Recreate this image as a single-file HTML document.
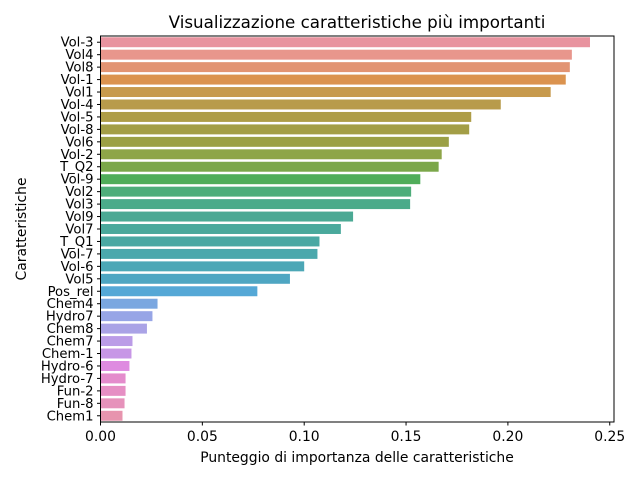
<!DOCTYPE html>
<html><head><meta charset="utf-8"><style>
body{margin:0;background:#fff;}
svg{font-family:"DejaVu Sans","Liberation Sans",sans-serif;}
</style></head><body>
<svg id="chart" width="640" height="480">
<text x="357" y="28" text-anchor="middle" font-size="16.7">Visualizzazione caratteristiche più importanti</text>
<g id="bars"></g><g id="yticks"></g><g id="xticks"></g>
<rect x="100.5" y="36" width="513.5" height="386" fill="none" stroke="#000" stroke-width="1"/>
<text x="357" y="462" text-anchor="middle" font-size="13.9">Punteggio di importanza delle caratteristiche</text>
<text transform="translate(26,229) rotate(-90)" text-anchor="middle" font-size="13.9">Caratteristiche</text>
</svg>
<script>
const categories=["Vol-3","Vol4","Vol8","Vol-1","Vol1","Vol-4","Vol-5","Vol-8","Vol6","Vol-2","T_Q2","Vol-9","Vol2","Vol3","Vol9","Vol7","T_Q1","Vol-7","Vol-6","Vol5","Pos_rel","Chem4","Hydro7","Chem8","Chem7","Chem-1","Hydro-6","Hydro-7","Fun-2","Fun-8","Chem1"];
const values=[0.2403,0.2314,0.2304,0.2284,0.221,0.1965,0.182,0.181,0.171,0.1675,0.166,0.157,0.1525,0.152,0.124,0.118,0.1075,0.1065,0.1,0.093,0.077,0.028,0.0255,0.0228,0.0157,0.0152,0.0142,0.0123,0.0123,0.0118,0.0108];
const xTicks=[0,0.05,0.10,0.15,0.20,0.25];
const xTickLabels=["0.00","0.05","0.10","0.15","0.20","0.25"];
const colors=["#e8939f","#e8968c","#e29473","#db934f","#c79a4d","#b89b4b","#ae9d47","#a39e46","#9ba045","#8ea548","#7ba74a","#50ad5a","#4ead7a","#4bab8a","#4ba994","#4aa99c","#4aa8a3","#4ba8ac","#4ca7b6","#4ea6c2","#55a8d6","#7aa7e0","#97a5e6","#aaa3e6","#bb9ce7","#c796e6","#de8be0","#e48ccc","#e68fc4","#e692bb","#e794ae"];
const NS="http://www.w3.org/2000/svg";
const L=100.5,R=614,T=36,B=422;
const xMax=(R-L)/2037;
const n=categories.length;
const band=(B-T)/n;
function xs(v){return L+v/xMax*(R-L);}
function ys(i){return T+band*(i+0.5);}
const bars=document.getElementById('bars'),yt=document.getElementById('yticks'),xt=document.getElementById('xticks');
categories.forEach((c,i)=>{
  const r=document.createElementNS(NS,'rect');
  r.setAttribute('x',L);r.setAttribute('y',ys(i)-band*0.4);
  r.setAttribute('width',xs(values[i])-L);r.setAttribute('height',band*0.8);
  r.setAttribute('fill',colors[i%colors.length]);
  
  
  bars.appendChild(r);
  const t=document.createElementNS(NS,'line');
  t.setAttribute('x1',L-3.5);t.setAttribute('x2',L);t.setAttribute('y1',ys(i));t.setAttribute('y2',ys(i));t.setAttribute('stroke','#000');
  
  
  yt.appendChild(t);
  const tx=document.createElementNS(NS,'text');
  tx.setAttribute('x',L-7);tx.setAttribute('y',ys(i)+4.5);tx.setAttribute('text-anchor','end');tx.setAttribute('font-size','13.2');
  tx.textContent=c;
  
  
  yt.appendChild(tx);
});
xTicks.forEach((v,i)=>{
  const t=document.createElementNS(NS,'line');
  t.setAttribute('x1',xs(v));t.setAttribute('x2',xs(v));t.setAttribute('y1',B);t.setAttribute('y2',B+3.5);t.setAttribute('stroke','#000');
  
  
  xt.appendChild(t);
  const tx=document.createElementNS(NS,'text');
  tx.setAttribute('x',xs(v));tx.setAttribute('y',B+19);tx.setAttribute('text-anchor','middle');tx.setAttribute('font-size','13.9');
  tx.textContent=xTickLabels[i];
  
  
  xt.appendChild(tx);
});
</script>
</body></html>
